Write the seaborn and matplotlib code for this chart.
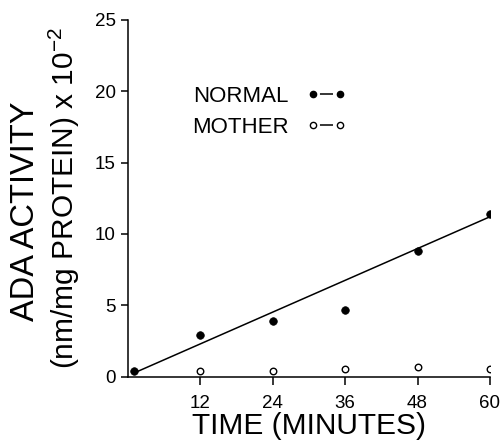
import seaborn as sns
import pandas as pd
import matplotlib.pyplot as plt
from matplotlib.lines import Line2D

# Data ------------------------------------------------------------------------
normalTime = [1, 12, 24, 36, 48, 60]
normalAda = [0.4, 2.9, 3.9, 4.65, 8.8, 11.4]
motherTime = [12, 24, 36, 48, 60]
motherAda = [0.4, 0.4, 0.55, 0.7, 0.5]
fitTime = [1, 60]
fitAda = [0.25, 11.2]
xTicks = [12, 24, 36, 48, 60]
yTicks = [0, 5, 10, 15, 20, 25]

normal = pd.DataFrame({'Time': normalTime, 'ADA': normalAda})
mother = pd.DataFrame({'Time': motherTime, 'ADA': motherAda})
fit = pd.DataFrame({'Time': fitTime, 'ADA': fitAda})

# Style -----------------------------------------------------------------------
sns.set_style('ticks')
plt.rcParams['font.family'] = ['Liberation Sans', 'DejaVu Sans']
plt.rcParams['mathtext.fontset'] = 'custom'
plt.rcParams['mathtext.rm'] = 'Liberation Sans'
for k in ['text.color', 'axes.labelcolor', 'xtick.color', 'ytick.color',
          'axes.edgecolor']:
    plt.rcParams[k] = 'black'

# Plot ------------------------------------------------------------------------
fig = plt.figure(figsize=(5.04, 4.43), dpi=100)
ax = fig.add_axes([0.254, 0.150, 0.718, 0.805])
sns.lineplot(data=fit, x='Time', y='ADA', color='k', linewidth=1.1, ax=ax)
sns.scatterplot(data=normal, x='Time', y='ADA', color='k', s=30,
                edgecolor='k', linewidth=0.5, ax=ax, zorder=3)
sns.scatterplot(data=mother, x='Time', y='ADA', facecolor='white', s=22,
                edgecolor='k', linewidth=1.0, ax=ax, zorder=3)

# Post Plot -------------------------------------------------------------------
ax.set_xlim(0, 60)
ax.set_ylim(0, 25)
ax.set_xticks(xTicks)
ax.set_yticks(yTicks)
ax.tick_params(axis='x', length=6, width=1.1, pad=7, labelsize=13.5)
ax.tick_params(axis='y', length=5, width=1.1, pad=4, labelsize=13.5)
sns.despine(ax=ax)
for s in ['left', 'bottom']:
    ax.spines[s].set_linewidth(1.1)
ax.set_xlabel('TIME (MINUTES)', fontsize=21.5, labelpad=0)
ax.set_ylabel('')
fig.text(0.050, 0.524, 'ADA ACTIVITY', rotation=90, ha='center',
         va='center', fontsize=23.5)
fig.text(0.128, 0.552, '(nm/mg PROTEIN) x 10$^{-2}$', rotation=90,
         ha='center', va='center', fontsize=21.5)

# legend: dot, short dash, dot
lw = 1.1
(L, g, fs) = (19.4, 5.0, 16)
dash = ((L - g) / lw, ((L - 2 * g) / lw, (2 * g) / lw))
handles = [
    Line2D([], [], color='k', lw=lw, ls=dash, marker='o', markersize=4.5,
           markerfacecolor='k', markeredgecolor='k'),
    Line2D([], [], color='k', lw=lw, ls=dash, marker='o', markersize=4.5,
           markerfacecolor='white', markeredgecolor='k', markeredgewidth=1),
]
ax.legend(handles, ['NORMAL', 'MOTHER'], loc='upper left',
          bbox_to_anchor=(0.176, 0.814), frameon=False, fontsize=fs,
          numpoints=2, markerfirst=False, handlelength=(L + 0.6 * fs) / fs,
          handletextpad=0.8, borderaxespad=0, borderpad=0,
          labelspacing=0.44)

# Save ------------------------------------------------------------------------
fig.savefig('out.png', dpi=100)
